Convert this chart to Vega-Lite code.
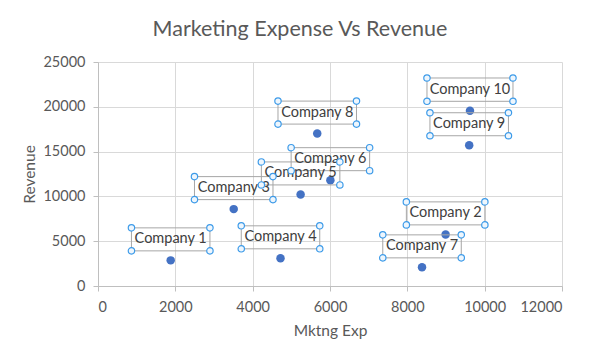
{
  "$schema": "https://vega.github.io/schema/vega-lite/v6.json",
  "width": 464,
  "height": 224,
  "autosize": {"type": "none"},
  "padding": {"left": 98, "top": 62, "right": 38, "bottom": 75},
  "background": "white",
  "title": {
    "text": "Marketing Expense Vs Revenue",
    "font": "Lato",
    "fontSize": 21.5,
    "fontWeight": "normal",
    "color": "#595959",
    "anchor": "middle",
    "dx": -30,
    "offset": 14
  },
  "config": {
    "view": {"stroke": null},
    "font": "Lato",
    "axis": {
      "labelFont": "Lato",
      "labelFontSize": 14.5,
      "labelColor": "#595959",
      "titleFont": "Lato",
      "titleFontSize": 15.5,
      "titleFontWeight": "normal",
      "titleColor": "#595959",
      "gridColor": "#d9d9d9",
      "domainColor": "#bfbfbf",
      "tickColor": "#bfbfbf",
      "tickSize": 5
    }
  },
  "data": {
    "values": [
      {"company": "Company 1", "exp": 1880, "rev": 2860},
      {"company": "Company 2", "exp": 8990, "rev": 5760},
      {"company": "Company 3", "exp": 3510, "rev": 8580},
      {"company": "Company 4", "exp": 4720, "rev": 3090},
      {"company": "Company 5", "exp": 5240, "rev": 10220},
      {"company": "Company 6", "exp": 6010, "rev": 11810},
      {"company": "Company 7", "exp": 8380, "rev": 2080},
      {"company": "Company 8", "exp": 5670, "rev": 17010},
      {"company": "Company 9", "exp": 9600, "rev": 15710},
      {"company": "Company 10", "exp": 9620, "rev": 19570}
    ]
  },
  "encoding": {
    "x": {
      "field": "exp",
      "type": "quantitative",
      "title": "Mktng Exp",
      "scale": {"domain": [0, 12000], "nice": false},
      "axis": {"values": [0, 2000, 4000, 6000, 8000, 10000, 12000], "format": "d", "labelPadding": 9, "titlePadding": 10}
    },
    "y": {
      "field": "rev",
      "type": "quantitative",
      "title": "Revenue",
      "scale": {"domain": [0, 25000], "nice": false},
      "axis": {"values": [0, 5000, 10000, 15000, 20000, 25000], "format": "d", "labelPadding": 8, "titlePadding": 5}
    }
  },
  "layer": [
    {
      "mark": {"type": "point", "filled": true, "shape": "circle", "color": "#4472c4", "opacity": 1, "size": 72}
    },
    {
      "mark": {"type": "point", "filled": false, "stroke": "#a6a6a6", "strokeWidth": 1, "opacity": 1, "yOffset": -21},
      "encoding": {
        "shape": {
          "condition": {"test": "datum.company === 'Company 10'", "value": "M-1,-0.271L1,-0.271L1,0.271L-1,0.271Z"},
          "value": "M-1,-0.293L1,-0.293L1,0.293L-1,0.293Z"
        },
        "size": {
          "condition": {"test": "datum.company === 'Company 10'", "value": 7396},
          "value": 6162
        }
      }
    },
    {
      "mark": {"type": "text", "font": "Lato", "fontSize": 14.5, "color": "#404040", "align": "center", "baseline": "middle", "yOffset": -21},
      "encoding": {"text": {"field": "company"}}
    },
    {
      "mark": {"type": "point", "filled": true, "fill": "#eef6fd", "stroke": "#3d9be9", "strokeWidth": 1.2, "opacity": 1, "yOffset": -21},
      "encoding": {
        "shape": {
          "condition": {"test": "datum.company === 'Company 10'", "value": "M1.0744,-0.271A0.0744,0.0744 0 1 1 0.9256,-0.271A0.0744,0.0744 0 1 1 1.0744,-0.271Z M-0.9256,-0.271A0.0744,0.0744 0 1 1 -1.0744,-0.271A0.0744,0.0744 0 1 1 -0.9256,-0.271Z M1.0744,0.271A0.0744,0.0744 0 1 1 0.9256,0.271A0.0744,0.0744 0 1 1 1.0744,0.271Z M-0.9256,0.271A0.0744,0.0744 0 1 1 -1.0744,0.271A0.0744,0.0744 0 1 1 -0.9256,0.271Z"},
          "value": "M1.0815,-0.293A0.0815,0.0815 0 1 1 0.9185,-0.293A0.0815,0.0815 0 1 1 1.0815,-0.293Z M-0.9185,-0.293A0.0815,0.0815 0 1 1 -1.0815,-0.293A0.0815,0.0815 0 1 1 -0.9185,-0.293Z M1.0815,0.293A0.0815,0.0815 0 1 1 0.9185,0.293A0.0815,0.0815 0 1 1 1.0815,0.293Z M-0.9185,0.293A0.0815,0.0815 0 1 1 -1.0815,0.293A0.0815,0.0815 0 1 1 -0.9185,0.293Z"
        },
        "size": {
          "condition": {"test": "datum.company === 'Company 10'", "value": 7396},
          "value": 6162
        }
      }
    }
  ]
}
